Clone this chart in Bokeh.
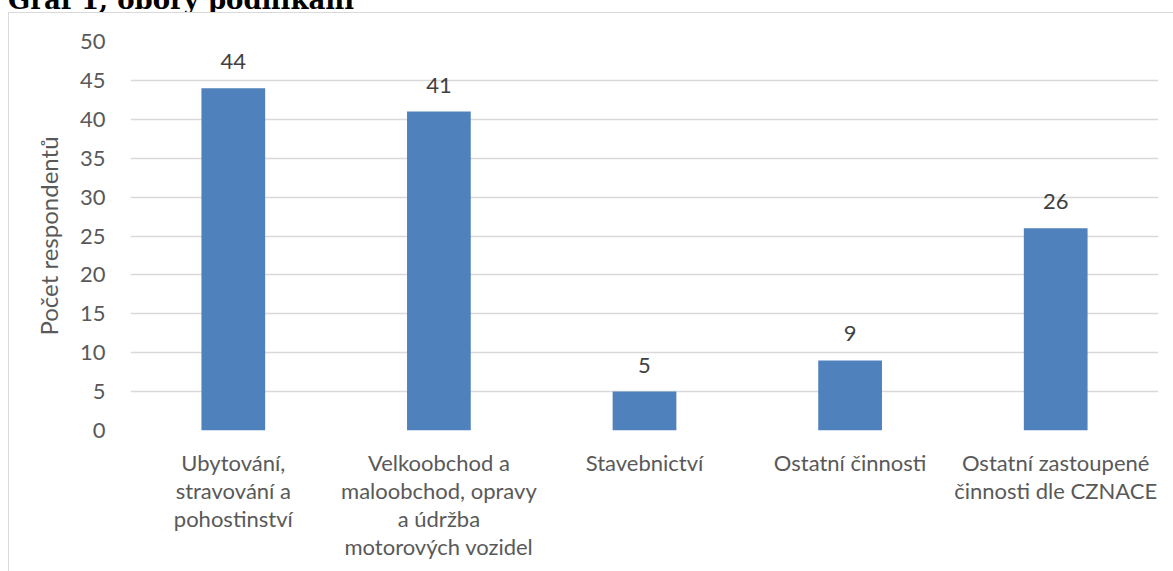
from bokeh.plotting import figure
from bokeh.layouts import column
from bokeh.models import (ColumnDataSource, FactorRange, Range1d, FixedTicker,
                          LabelSet, Div, InlineStyleSheet)
from bokeh.core.properties import value
from bokeh.embed import file_html
from bokeh.resources import INLINE

categories = [
    "Ubytování,\nstravování a\npohostinství",
    "Velkoobchod a\nmaloobchod, opravy\na údržba\nmotorových vozidel",
    "Stavebnictví",
    "Ostatní činnosti",
    "Ostatní zastoupené\nčinnosti dle CZNACE",
]
values = [44, 41, 5, 9, 26]
y_ticks = [0, 5, 10, 15, 20, 25, 30, 35, 40, 45, 50]
title_text = "Graf 1, obory podnikání"
y_label = "Počet respondentů"

FONT = "Lato"
W = 1173
TITLE_H = 12
H = 571 - TITLE_H
ML, MR, MT, MB = 130, 15, 41 - TITLE_H, 141

src = ColumnDataSource(dict(cat=categories, val=values, lab=[str(v) for v in values]))

p = figure(width=W, height=H, output_backend="svg", toolbar_location=None,
           x_range=FactorRange(factors=categories, range_padding=0),
           y_range=Range1d(0, 50),
           min_border_left=ML, min_border_right=MR, min_border_top=MT, min_border_bottom=MB)
p.outline_line_color = None
p.background_fill_color = "white"
p.border_fill_color = "white"

p.vbar(x="cat", top="val", width=0.31, source=src, fill_color="#4F81BD", line_color=None)

p.yaxis.ticker = FixedTicker(ticks=y_ticks)
p.ygrid.ticker = FixedTicker(ticks=y_ticks)
p.ygrid.grid_line_color = "#d9d9d9"
p.ygrid.grid_line_width = 1.5
p.xgrid.grid_line_color = None

for ax in (p.xaxis[0], p.yaxis[0]):
    ax.axis_line_color = None
    ax.major_tick_line_color = None
    ax.minor_tick_line_color = None
    ax.major_label_text_font = FONT
    ax.major_label_text_font_size = "22px"
    ax.major_label_text_color = "#595959"

p.yaxis.major_label_standoff = 19
p.yaxis.axis_label = y_label
p.yaxis.axis_label_text_font = FONT
p.yaxis.axis_label_text_font_size = "24px"
p.yaxis.axis_label_text_font_style = "normal"
p.yaxis.axis_label_text_color = "#595959"
p.yaxis.axis_label_standoff = 14

p.xaxis.major_label_standoff = 12
p.xaxis.major_label_text_line_height = 1.04

labels = LabelSet(x="cat", y="val", text="lab", source=src, y_offset=19,
                  text_align="center", text_baseline="alphabetic",
                  text_font=value(FONT), text_font_size=value("22px"),
                  text_color="#404040")
p.add_layout(labels)

# chart-area border (left and top edges visible in the reference)
p.stylesheets = [InlineStyleSheet(css="""
:host { position: relative; }
:host::after {
  content: "";
  position: absolute;
  left: 8px; top: 0px; right: 0px; bottom: 0px;
  border-left: 1px solid #d9d9d9;
  border-top: 1px solid #d9d9d9;
  pointer-events: none;
}
""")]

title_div = Div(
    text=('<div style="height:%dpx;overflow:hidden;">'
          '<div style="margin-top:-13px;margin-left:8px;white-space:nowrap;'
          'font-family:\'DejaVu Serif\';font-weight:bold;font-size:26px;'
          'line-height:26px;color:black;">%s</div></div>') % (TITLE_H, title_text),
    width=W, height=TITLE_H, margin=(0, 0, 0, 0))

layout = column(title_div, p, spacing=0, margin=(0, 0, 0, 0))

open("out.html", "w").write(file_html(layout, INLINE))
